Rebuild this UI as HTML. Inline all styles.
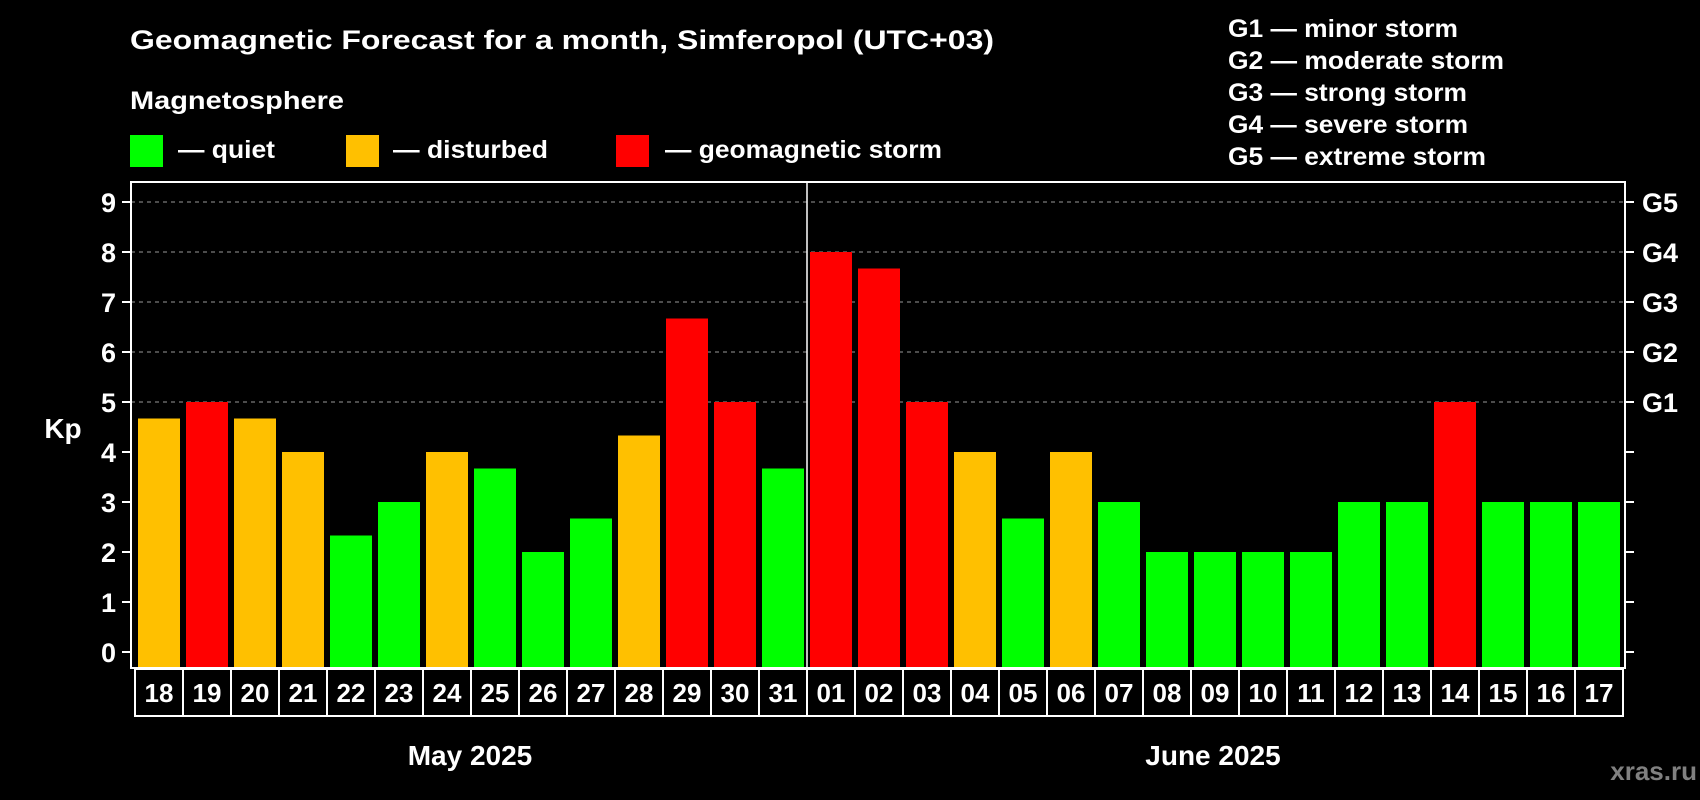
<!DOCTYPE html>
<html><head><meta charset="utf-8"><style>
html,body{margin:0;padding:0;background:#000;}
svg{display:block;font-family:"Liberation Sans",sans-serif;font-weight:bold;}
</style></head><body>
<svg id="chart" width="1700" height="800" viewBox="0 0 1700 800">
<rect width="1700" height="800" fill="#000"/>
<text x="130" y="49" font-size="27" fill="#fff" textLength="864" lengthAdjust="spacingAndGlyphs">Geomagnetic Forecast for a month, Simferopol (UTC+03)</text>
<text x="130" y="109" font-size="25" fill="#fff" textLength="214" lengthAdjust="spacingAndGlyphs">Magnetosphere</text>
<g><rect x="130" y="135" width="33" height="32" fill="#00ff00"/><text x="178" y="158" font-size="25" fill="#fff" textLength="97" lengthAdjust="spacingAndGlyphs">— quiet</text></g>
<g><rect x="346" y="135" width="33" height="32" fill="#ffc000"/><text x="393" y="158" font-size="25" fill="#fff" textLength="155" lengthAdjust="spacingAndGlyphs">— disturbed</text></g>
<g><rect x="616" y="135" width="33" height="32" fill="#ff0000"/><text x="665" y="158" font-size="25" fill="#fff" textLength="277" lengthAdjust="spacingAndGlyphs">— geomagnetic storm</text></g>
<g font-size="25" fill="#fff">
<text x="1228" y="37" textLength="230" lengthAdjust="spacingAndGlyphs">G1 — minor storm</text>
<text x="1228" y="69" textLength="276" lengthAdjust="spacingAndGlyphs">G2 — moderate storm</text>
<text x="1228" y="101" textLength="239" lengthAdjust="spacingAndGlyphs">G3 — strong storm</text>
<text x="1228" y="133" textLength="240" lengthAdjust="spacingAndGlyphs">G4 — severe storm</text>
<text x="1228" y="165" textLength="258" lengthAdjust="spacingAndGlyphs">G5 — extreme storm</text>
</g>
<text x="63" y="438" font-size="28" fill="#fff" text-anchor="middle">Kp</text>
<text x="470" y="765" font-size="28" fill="#fff" text-anchor="middle">May 2025</text>
<text x="1213" y="765" font-size="28" fill="#fff" text-anchor="middle">June 2025</text>
<text x="1697" y="780" font-size="26" fill="#808080" text-anchor="end">xras.ru</text>
<g id="grid"></g><g id="bars"></g><g id="axes"></g>
</svg>
<script>
const days = ["18","19","20","21","22","23","24","25","26","27","28","29","30","31","01","02","03","04","05","06","07","08","09","10","11","12","13","14","15","16","17"];
const kp = [4.67,5,4.67,4,2.33,3,4,3.67,2,2.67,4.33,6.67,5,3.67,8,7.67,5,4,2.67,4,3,2,2,2,2,3,3,5,3,3,3];
const yTicks = [0,1,2,3,4,5,6,7,8,9];
const gLabels = ["G1","G2","G3","G4","G5"];
const gLevels = [5,6,7,8,9];
const NS="http://www.w3.org/2000/svg";
const y0=652, yUnit=(652-202)/9;
const Y=v=>y0-v*yUnit;
const X=i=>138+i*48;
const BW=42;
const frameTop=182, frameBot=668;
function mk(tag,attrs,parent){const e=document.createElementNS(NS,tag);for(const k in attrs)e.setAttribute(k,attrs[k]);parent.appendChild(e);return e;}
const grid=document.getElementById('grid'),bars=document.getElementById('bars'),axes=document.getElementById('axes');
gLevels.forEach(v=>{const l=mk('line',{x1:131,x2:1625,y1:Y(v),y2:Y(v),stroke:'#999','stroke-dasharray':'4 4','stroke-width':1},grid);

});
kp.forEach((v,i)=>{const c=v>=5?'#ff0000':(v>=4?'#ffc000':'#00ff00');
const r=mk('rect',{x:X(i),y:Y(v),width:BW,height:frameBot-Y(v),fill:c},bars);

});
const f=mk('rect',{x:131,y:frameTop,width:1494,height:frameBot-frameTop,fill:'none',stroke:'#fff','stroke-width':2},axes);


const sep=mk('line',{x1:807,x2:807,y1:frameTop,y2:frameBot,stroke:'#fff','stroke-width':1.5},axes);


yTicks.forEach(v=>{mk('line',{x1:122,x2:131,y1:Y(v),y2:Y(v),stroke:'#fff','stroke-width':2},axes);
mk('line',{x1:1625,x2:1634,y1:Y(v),y2:Y(v),stroke:'#fff','stroke-width':2},axes);
const t=mk('text',{x:116,y:Y(v)+10,'font-size':27,fill:'#fff','text-anchor':'end'},axes);t.textContent=v;

});
gLabels.forEach((g,i)=>{const t=mk('text',{x:1642,y:Y(gLevels[i])+10,'font-size':27,fill:'#fff'},axes);t.textContent=g;

});
const bx=mk('rect',{x:135,y:669,width:1488,height:47,fill:'none',stroke:'#fff','stroke-width':2},axes);


days.forEach((d,i)=>{if(i>0)mk('line',{x1:X(i)-3,x2:X(i)-3,y1:669,y2:716,stroke:'#fff','stroke-width':2},axes);
const t=mk('text',{x:X(i)+BW/2,y:702,'font-size':26,fill:'#fff','text-anchor':'middle'},axes);t.textContent=d;

});
</script>
</body></html>
